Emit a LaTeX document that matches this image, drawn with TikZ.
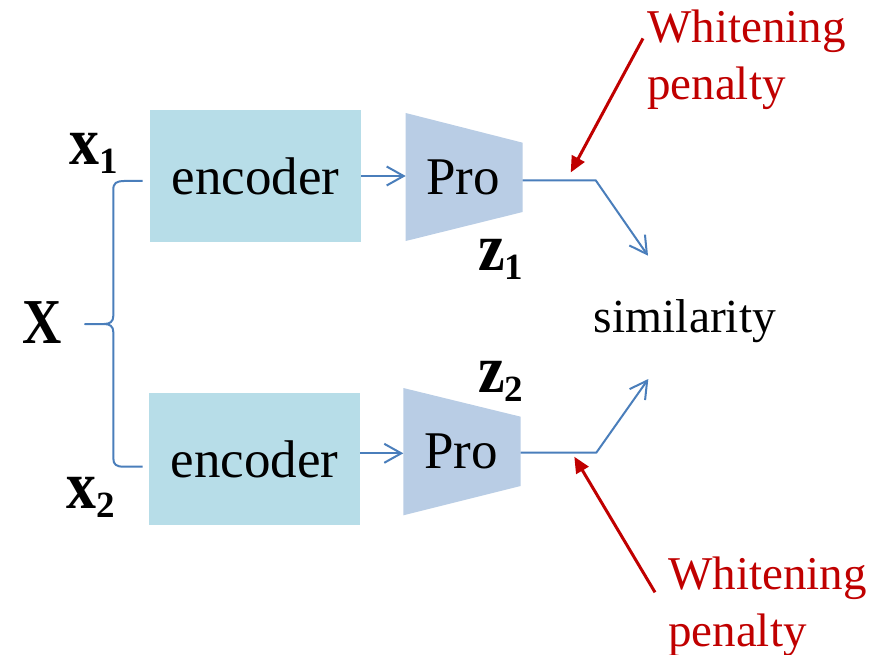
\documentclass[tikz,border=0pt]{standalone}
\usepackage{fontspec}
\usepackage{graphicx}
\setmainfont{Liberation Serif}
\usetikzlibrary{arrows.meta}

\definecolor{encfill}{HTML}{B7DDE8}
\definecolor{profill}{HTML}{B9CDE5}
\definecolor{linkblue}{HTML}{4A7EBB}
\definecolor{penred}{HTML}{C00000}

% bold variable with a bold subscript
\newcommand{\bvar}[2]{{\rmfamily\fontsize{68}{70}\selectfont\bfseries\scalebox{0.88}[1]{#1}}\raisebox{-9pt}{\rmfamily\fontsize{37}{40}\selectfont\bfseries #2}}

\begin{document}
\begin{tikzpicture}[x=1pt,y=-1pt,
  encbox/.style={fill=encfill, minimum width=211pt, minimum height=132pt,
                 inner sep=0pt, font=\rmfamily\fontsize{53}{60}\selectfont},
  protext/.style={inner sep=0pt, font=\rmfamily\fontsize{53}{60}\selectfont},
  link/.style={draw=linkblue, line width=2pt, line join=round,
               -{Straight Barb[length=17pt,width=19pt]}},
  bracelink/.style={draw=linkblue, line width=2pt, line join=round},
  penarrow/.style={draw=penred, line width=3pt,
                   -{Triangle[length=16pt,width=14pt]}},
  pentext/.style={text=penred, font=\rmfamily\fontsize{47}{57}\selectfont,
                  align=left, inner sep=0pt, anchor=north west},
  varlab/.style={inner sep=0pt, anchor=base west}]

\useasboundingbox (0,0) rectangle (894,655);

% encoders
\node[encbox] (enc1) at (255.5,176) {encoder};
\node[encbox] (enc2) at (254.5,459) {encoder};

% projection heads (trapezoids)
\coordinate (t1a) at (405.7,113);
\coordinate (t1b) at (522.7,142.7);
\coordinate (t1c) at (522.7,212);
\coordinate (t1d) at (405.7,241);
\fill[profill] (t1a) -- (t1b) -- (t1c) -- (t1d) -- cycle;
\node[protext] (pro1) at (463,177) {Pro};

\coordinate (t2a) at (403.3,388);
\coordinate (t2b) at (520.7,416.7);
\coordinate (t2c) at (520.7,486);
\coordinate (t2d) at (403.3,515.3);
\fill[profill] (t2a) -- (t2b) -- (t2c) -- (t2d) -- cycle;
\node[protext] (pro2) at (461,451) {Pro};

% connection points
\coordinate (p1in)  at (405.7,176);
\coordinate (p2in)  at (403.3,453.3);
\coordinate (p1out) at (522.7,180.3);
\coordinate (p2out) at (520.7,452.7);
\coordinate (bend1) at (595.7,180.3);
\coordinate (bend2) at (596.3,452.7);
\coordinate (sim1)  at (648,255.7);
\coordinate (sim2)  at (648.3,379);

% encoder to projection
\draw[link] (enc1.east |- p1in) -- (p1in);
\draw[link] (enc2.east |- p2in) -- (p2in);

% projection to similarity
\draw[link] (p1out) -- (bend1) -- (sim1);
\draw[link] (p2out) -- (bend2) -- (sim2);

\node[inner sep=0pt, anchor=base, font=\rmfamily\fontsize{47.5}{55}\selectfont]
  (sim) at (685,332) {similarity};

% brace splitting the input into two views
\coordinate (br1) at (142.7,181);
\coordinate (br2) at (142.7,466.7);
\coordinate (brtip) at (85,324);
\draw[bracelink] (br1) -- (124,181) .. controls (116,181.3) and (113.3,183) .. (113.3,190)
  -- (113.3,316) .. controls (113.3,321.5) and (110,324) .. (104,324) -- (brtip)
  -- (104,324) .. controls (110,324) and (113.3,326.5) .. (113.3,332)
  -- (113.3,458) .. controls (113.3,464.5) and (116,466.7) .. (124,466.7) -- (br2);

% variable labels
\node[varlab] (x1) at (69,165) {\bvar{x}{1}};
\node[varlab] (x2) at (66,508) {\bvar{x}{2}};
\node[varlab] (X) at (22,343) {{\rmfamily\fontsize{64}{70}\selectfont\bfseries\scalebox{0.85}[1]{X}}};
\node[varlab] (z1) at (478,270.7) {\bvar{z}{1}};
\node[varlab] (z2) at (478,392.6) {\bvar{z}{2}};

% whitening penalties
\node[pentext] (pen1) at (647,9.5) {Whitening\\penalty};
\node[pentext] (pen2) at (668,557) {Whitening\\penalty};
\coordinate (pen1from) at (643,38.4);
\coordinate (pen1to) at (570.7,172.5);
\coordinate (pen2from) at (655,592.3);
\coordinate (pen2to) at (574.3,456.7);
\draw[penarrow] (pen1from) -- (pen1to);
\draw[penarrow] (pen2from) -- (pen2to);

\end{tikzpicture}
\end{document}
